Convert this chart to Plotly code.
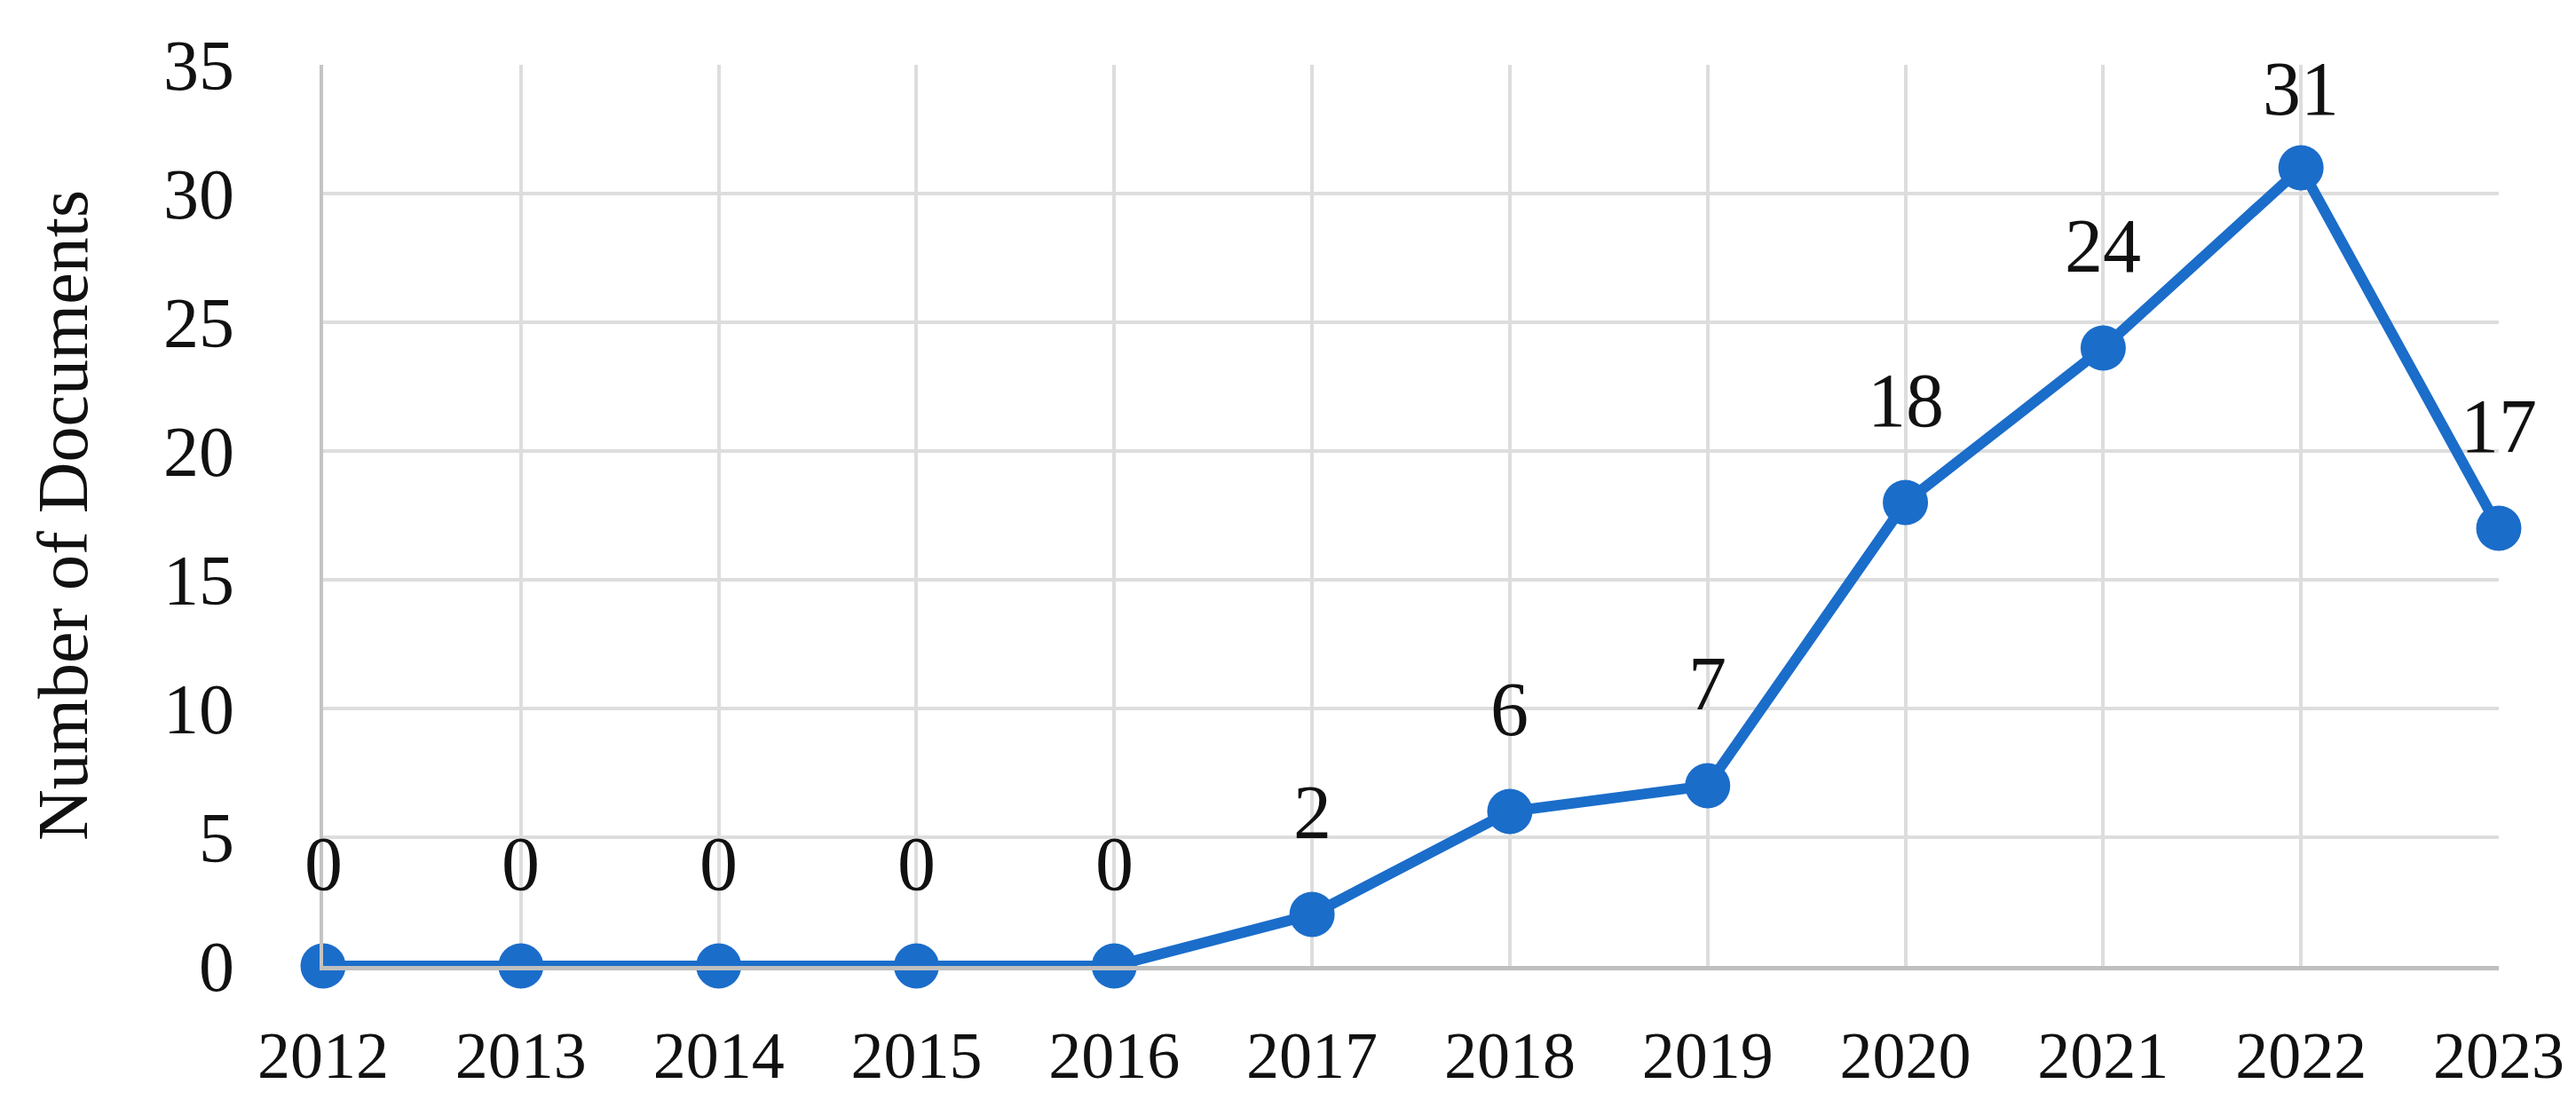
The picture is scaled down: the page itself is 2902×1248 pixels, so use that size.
import plotly.graph_objects as go

years = [2012, 2013, 2014, 2015, 2016, 2017, 2018, 2019, 2020, 2021, 2022, 2023]
documents = [0, 0, 0, 0, 0, 2, 6, 7, 18, 24, 31, 17]
y_ticks = [0, 5, 10, 15, 20, 25, 30, 35]
label_shift = [115, 115, 115, 115, 115, 115, 115, 115, 115, 115, 89, 115]

LINE = "#1B6DCA"
FONT = "Liberation Serif"

fig = go.Figure()
fig.add_trace(go.Scatter(
    x=years, y=documents, mode="lines+markers",
    line=dict(color=LINE, width=12),
    marker=dict(color=LINE, size=51),
    cliponaxis=False, showlegend=False, hoverinfo="x+y",
))

for x, y, s in zip(years, documents, label_shift):
    fig.add_annotation(x=x, y=y, text=str(y), showarrow=False,
                       yshift=s, xanchor="center", yanchor="middle",
                       font=dict(family=FONT, size=86, color="#111111"))

fig.update_layout(
    width=2902, height=1248,
    margin=dict(l=356, r=95, t=65, b=168),
    paper_bgcolor="white", plot_bgcolor="white",
    font=dict(family=FONT, color="#111111"),
)
fig.update_xaxes(
    range=[2012, 2023], tickmode="array", tickvals=years,
    ticktext=[str(y) for y in years], automargin=False,
    showgrid=True, gridcolor="#DDDDDD", gridwidth=4,
    showline=True, linecolor="#BFBFBF", linewidth=5,
    zeroline=False, ticks="", ticklabelstandoff=32,
    tickfont=dict(family=FONT, size=74, color="#111111"),
)
fig.update_yaxes(
    range=[0, 35], tickmode="array", tickvals=y_ticks, automargin=False,
    showgrid=True, gridcolor="#DDDDDD", gridwidth=4,
    showline=True, linecolor="#C4C4C4", linewidth=4,
    zeroline=False, ticks="", ticklabelstandoff=80,
    tickfont=dict(family=FONT, size=80, color="#111111"),
    title=dict(text="Number of Documents", standoff=60,
               font=dict(family=FONT, size=80, color="#111111")),
)

fig.write_html("out.html")
